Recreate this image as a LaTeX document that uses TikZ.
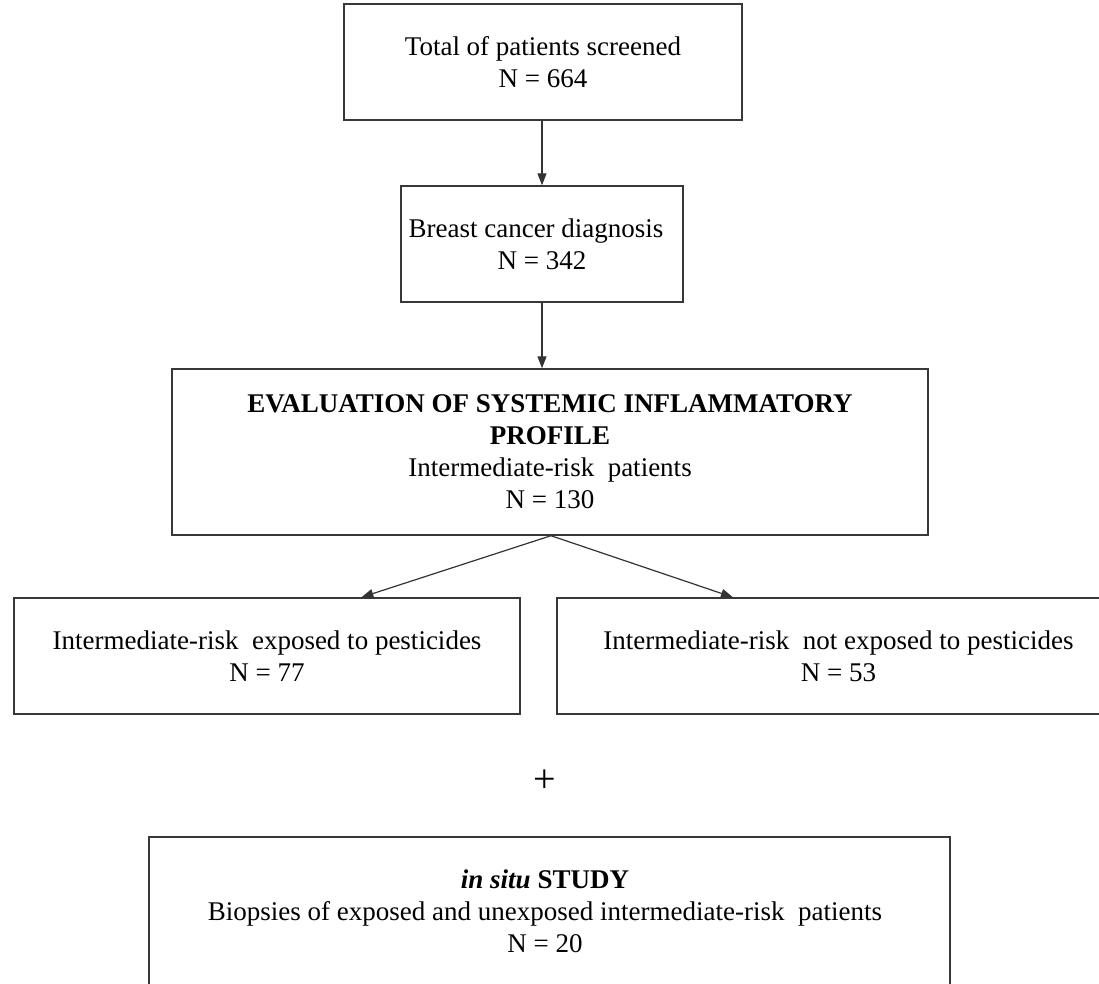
\documentclass[tikz,border=0pt]{standalone}
\usepackage{fontspec}
\setmainfont{Liberation Serif}
\usetikzlibrary{arrows.meta,calc}
\begin{document}
\begin{tikzpicture}[x=1pt,y=-1pt,
  every node/.style={font=\fontsize{27}{32}\selectfont, align=center, inner sep=0pt},
  boxnode/.style={draw=black!78, line width=1.4pt, minimum height=116pt},
  arr/.style={draw=black!80, line width=1.2pt, -{Triangle[length=12pt,width=9pt]}}]
\useasboundingbox (0,0) rectangle (1099,984);
\clip (0,0) rectangle (1099,984);
\node[boxnode, minimum width=398pt] (b1) at (543,62) {Total of patients screened\\N = 664};
\node[boxnode, minimum width=282pt] (b2) at (542,244) {Breast cancer diagnosis\hspace*{12pt}\\N = 342};
\node[boxnode, minimum width=756pt, minimum height=166pt] (b3) at (550,452)
  {\textbf{EVALUATION OF SYSTEMIC INFLAMMATORY}\\\textbf{PROFILE}\\Intermediate-risk~ patients\\N = 130};
\node[boxnode, minimum width=506pt] (b4) at (267,656) {Intermediate-risk~ exposed to pesticides\\N = 77};
\node[boxnode, minimum width=563pt] (b5) at (838.5,656) {Intermediate-risk~ not exposed to pesticides\\N = 53};
\node[font=\fontsize{40}{40}\selectfont] (plus) at (545,781) {+};
\node[boxnode, minimum width=801pt, minimum height=173pt] (b6) at (549.5,923.5) {};
\node (b6text) at (545,911) {\textbf{\textit{in situ} STUDY}\\Biopsies of exposed and unexposed intermediate-risk~ patients\\N = 20};
\draw[arr] (b2.north |- b1.south) -- (b2.north);
\draw[arr] (b2.south) -- (b2.south |- b3.north);
\draw[arr] ($(b3.south)+(1,0)$) -- ($(b4.north west)!0.686!(b4.north east)$);
\draw[arr] ($(b3.south)+(1,0)$) -- ($(b5.north west)!0.313!(b5.north east)$);
\end{tikzpicture}
\end{document}
